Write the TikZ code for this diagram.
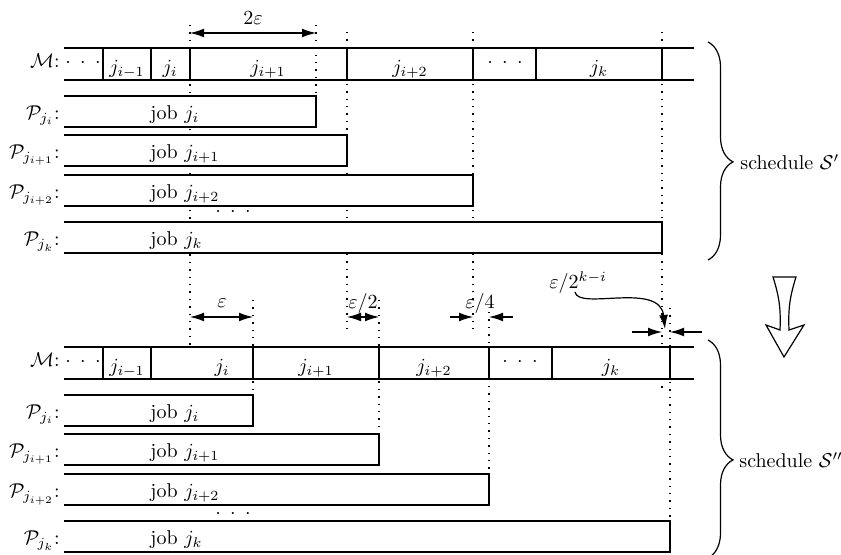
\documentclass[tikz,border=0pt]{standalone}
\usetikzlibrary{arrows.meta,decorations.pathreplacing}
\newcommand\mdots{${\cdot}\hspace{4.7pt}{\cdot}\hspace{4.7pt}{\cdot}$}
\begin{document}
\begin{tikzpicture}[x=0.5pt, y=-0.5pt,
   every node/.style={inner sep=0pt},
   box/.style={line width=0.85pt},
   cut/.style={line width=0.7pt, dash pattern=on 0.7pt off 3pt},
   dim/.style={line width=0.6pt, {Latex[length=7pt,width=4.4pt]}-{Latex[length=7pt,width=4.4pt]}},
   tip/.style={line width=0.6pt, -{Latex[length=7pt,width=4.4pt]}},
   sched/.style={decorate, decoration={brace, amplitude=12.5pt, aspect=0.55}, line width=0.6pt}]

\useasboundingbox (0,0) rectangle (841,555);

% dotted guides
\foreach \x/\a/\b in {190/25/347, 316/25/96, 347/32/333, 473/32/333, 662/32/347, 662/379/392,
                      253/300/395, 379/300/434, 489/312/474, 670/308/521}
  \draw[cut] (\x,\a) -- (\x,\b);

% machine rows
\foreach \y/\cuts in {48/{103,151,190,347,473,536,662}, 347/{103,151,253,379,489,552,670}} {
  \draw[box] (64,\y) -- (694,\y) (64,\y+32) -- (694,\y+32);
  \foreach \x in \cuts \draw[box] (\x,\y) -- (\x,\y+32);
}
\node[anchor=base east] (M1) at (60,68) {$\mathcal{M}$:};
\node[anchor=base east] (M2) at (60,367) {$\mathcal{M}$:};
\foreach \x/\y/\t [count=\n] in {83/68/\mdots, 127/74/$j_{i-1}$, 170/74/$j_i$, 268/74/$j_{i+1}$,
                                 410/74/$j_{i+2}$, 505/68/\mdots, 599/74/$j_k$,
                                 83/367/\mdots, 127/373/$j_{i-1}$, 222/373/$j_i$, 316/373/$j_{i+1}$,
                                 434/373/$j_{i+2}$, 520/367/\mdots, 611/373/$j_k$}
  \node[anchor=base] (c\n) at (\x,\y) {\t};

% processor rows
\foreach \y/\r/\j [count=\n] in {96/316/j_i, 135/347/j_{i+1}, 175/473/j_{i+2}, 222/662/j_k,
                                 395/253/j_i, 434/379/j_{i+1}, 474/489/j_{i+2}, 521/670/j_k} {
  \fill[white] (64,\y) rectangle (\r,\y+31);
  \draw[box] (64,\y) -| (\r,\y+31) -- (64,\y+31);
  \node[anchor=base east] (P\n) at (60,\y+24) {$\mathcal{P}_{\j}$:};
  \node[anchor=base west] (job\n) at (150,\y+24) {job $\j$};
}
\node[anchor=base] (d1) at (233,217) {\mdots};
\node[anchor=base] (d2) at (233,518) {\mdots};

% shifts
\coordinate (a1) at (190,33); \coordinate (a2) at (316,33);
\draw[dim] (a1) -- (a2);
\node[anchor=base] (la) at (253,25) {$2\varepsilon$};
\coordinate (b1) at (190,317); \coordinate (b2) at (253,317);
\draw[dim] (b1) -- (b2);
\node[anchor=base] (lb) at (222,308) {$\varepsilon$};
\coordinate (b3) at (347,317); \coordinate (b4) at (379,317);
\draw[dim] (b3) -- (b4);
\node[anchor=base] (lc) at (363,309) {$\varepsilon/2$};
\coordinate (q1) at (450,317); \coordinate (q2) at (473,317);
\coordinate (q3) at (489,317); \coordinate (q4) at (513,317);
\draw[tip] (q1) -- (q2);
\draw[tip] (q4) -- (q3);
\node[anchor=base] (ld) at (480,309) {$\varepsilon/4$};
\coordinate (r1) at (632,332); \coordinate (r2) at (662,332);
\coordinate (r3) at (670,332); \coordinate (r4) at (702,332);
\draw[tip] (r1) -- (r2);
\draw[tip] (r4) -- (r3);
\node[anchor=base west] (le) at (549,289) {$\varepsilon/2^{k-i}$};
\coordinate (r0) at (575,292); \coordinate (r5) at (665,329);
\draw[tip] (r0) .. controls (578,311) and (660,281) .. (r5);

% big arrow
\draw[line width=0.6pt] (773,277) -- (796,277) to[bend right=10] (789,330) -- (804,325)
   -- (784,357) -- (766,325) -- (780,330) to[bend right=10] (773,277) -- cycle;

% braces
\draw[sched] (708,42) -- (708,260);
\node[anchor=west] (S1) at (740,162) {schedule $\mathcal{S}'$};
\draw[sched] (708,340) -- (708,558);
\node[anchor=west] (S2) at (739,460) {schedule $\mathcal{S}''$};
\end{tikzpicture}
\end{document}
